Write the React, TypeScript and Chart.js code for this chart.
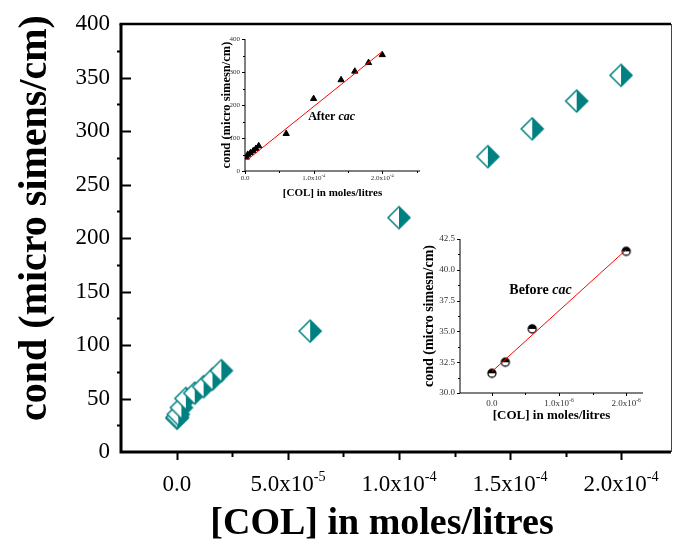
import React, { useEffect, useRef } from 'react';
import { Chart, registerables } from 'chart.js';
Chart.register(...registerables);

// ---------- data ----------
const mainX = [0, 2e-7, 6e-7, 2e-6, 4e-6, 8e-6, 1.2e-5, 1.6e-5, 2e-5, 6e-5, 1e-4, 1.4e-4, 1.6e-4, 1.8e-4, 2e-4];
const mainY = [31.6, 32.5, 35.2, 41.5, 50, 55, 61, 68, 76, 113, 219, 276, 302, 328, 352];
const mainXTicks = [0, 5e-5, 1e-4, 1.5e-4, 2e-4];
const mainXTickBase = ['0.0', '5.0x10', '1.0x10', '1.5x10', '2.0x10'];
const mainXTickExp = ['', '-5', '-4', '-4', '-4'];
const mainXMinor = [2.5e-5, 7.5e-5, 1.25e-4, 1.75e-4];
const mainYTicks = [0, 50, 100, 150, 200, 250, 300, 350, 400];
const mainYTickLabels = ['0', '50', '100', '150', '200', '250', '300', '350', '400'];
const mainYMinor = [25, 75, 125, 175, 225, 275, 325, 375];

const afterX = [2e-6, 4e-6, 8e-6, 1.2e-5, 1.6e-5, 2e-5, 6e-5, 1e-4, 1.4e-4, 1.6e-4, 1.8e-4, 2e-4];
const afterY = [41.5, 50, 55, 61, 68, 76, 113, 219, 276, 302, 328, 352];
const afterFitX = [4e-6, 2e-4];
const afterFitY = [35, 362];
const afterXTicks = [0, 1e-4, 2e-4];
const afterXTickBase = ['0.0', '1.0x10', '2.0x10'];
const afterXTickExp = ['', '-4', '-4'];
const afterXMinor = [5e-5, 1.5e-4, 2.5e-4];
const afterYTicks = [0, 100, 200, 300, 400];
const afterYTickLabels = ['0', '100', '200', '300', '400'];
const afterYMinor = [50, 150, 250, 350];

const beforeX = [0, 2e-7, 6e-7, 2e-6];
const beforeY = [31.6, 32.5, 35.2, 41.5];
const beforeFitX = [0, 2e-6];
const beforeFitY = [31.74, 41.63];
const beforeXTicks = [0, 1e-6, 2e-6];
const beforeXTickBase = ['0.0', '1.0x10', '2.0x10'];
const beforeXTickExp = ['', '-6', '-6'];
const beforeXMinor = [5e-7, 1.5e-6];
const beforeYTicks = [30, 32.5, 35, 37.5, 40, 42.5];
const beforeYTickLabels = ['30.0', '32.5', '35.0', '37.5', '40.0', '42.5'];
const beforeYMinor = [31.25, 33.75, 36.25, 38.75, 41.25];

const TEAL = '#008080';
const SERIF = "'Liberation Serif', 'Times New Roman', serif";

// ---------- markers ----------
function makeDiamond(): HTMLCanvasElement {
  const c = document.createElement('canvas');
  c.width = 26; c.height = 26;
  const g = c.getContext('2d')!;
  const cx = 13, cy = 13, r = 11;
  g.fillStyle = '#fff';
  g.beginPath(); g.moveTo(cx, cy - r); g.lineTo(cx - r, cy); g.lineTo(cx, cy + r); g.closePath(); g.fill();
  g.fillStyle = TEAL;
  g.beginPath(); g.moveTo(cx, cy - r); g.lineTo(cx + r, cy); g.lineTo(cx, cy + r); g.closePath(); g.fill();
  g.strokeStyle = TEAL; g.lineWidth = 1.5;
  g.beginPath(); g.moveTo(cx, cy - r); g.lineTo(cx + r, cy); g.lineTo(cx, cy + r); g.lineTo(cx - r, cy); g.closePath(); g.stroke();
  return c;
}

function makeHalfCircle(): HTMLCanvasElement {
  const c = document.createElement('canvas');
  c.width = 12; c.height = 12;
  const g = c.getContext('2d')!;
  const cx = 6, cy = 6, r = 4;
  g.fillStyle = '#fff';
  g.beginPath(); g.arc(cx, cy, r, 0, Math.PI * 2); g.fill();
  g.fillStyle = '#000';
  g.beginPath(); g.arc(cx, cy, r, Math.PI, 0); g.closePath(); g.fill();
  g.strokeStyle = '#000'; g.lineWidth = 1.3;
  g.beginPath(); g.arc(cx, cy, r, 0, Math.PI * 2); g.stroke();
  return c;
}

// ---------- axes plugin ----------
type Note = { parts: { text: string; italic?: boolean }[]; x: number; y: number; size: number };
type Title = { text: string; size: number; cx: number; cy: number; rotate?: boolean };
type AxisOpts = {
  axisWidth: number; tickWidth: number; color: string;
  xMajor: number[]; xMinor: number[]; yMajor: number[]; yMinor: number[];
  xMajorLen: number; xMinorLen: number; yMajorLen: number; yMinorLen: number;
  xBase: string[]; xExp: string[]; xLabelSize: number; xLabelColor: string; xLabelOffset: number;
  topLine?: number; rightLine?: number; rightColor?: string;
  note?: Note;
  titles?: Title[];
};

function axesPlugin(o: AxisOpts) {
  return {
    id: 'axesFrame',
    afterDraw(chart: any) {
      const { ctx, chartArea: a, scales } = chart;
      const xs = scales.x, ys = scales.y;
      ctx.save();
      ctx.strokeStyle = o.color;
      ctx.lineCap = 'butt';
      const xt = (vals: number[], len: number) => {
        ctx.beginPath();
        vals.forEach((v) => {
          const p = Math.round(xs.getPixelForValue(v)) + 0.5;
          ctx.moveTo(p, a.bottom); ctx.lineTo(p, a.bottom + len);
        });
        ctx.stroke();
      };
      const yt = (vals: number[], len: number) => {
        ctx.beginPath();
        vals.forEach((v) => {
          const p = Math.round(ys.getPixelForValue(v)) + 0.5;
          ctx.moveTo(a.left, p); ctx.lineTo(a.left - len, p);
        });
        ctx.stroke();
      };
      ctx.lineWidth = o.tickWidth;
      xt(o.xMajor, o.xMajorLen); xt(o.xMinor, o.xMinorLen);
      yt(o.yMajor, o.yMajorLen); yt(o.yMinor, o.yMinorLen);
      // axes
      ctx.lineWidth = o.axisWidth;
      ctx.beginPath();
      ctx.moveTo(a.left, a.top);
      ctx.lineTo(a.left, a.bottom);
      ctx.lineTo(a.right, a.bottom);
      ctx.stroke();
      if (o.topLine) {
        ctx.lineWidth = o.topLine;
        ctx.beginPath(); ctx.moveTo(a.left - o.axisWidth / 2, a.top); ctx.lineTo(a.right, a.top); ctx.stroke();
      }
      if (o.rightLine) {
        ctx.lineWidth = o.rightLine;
        ctx.strokeStyle = o.rightColor || o.color;
        ctx.beginPath(); ctx.moveTo(a.right + 0.5, a.top); ctx.lineTo(a.right + 0.5, a.bottom); ctx.stroke();
      }
      // x tick labels with superscript exponents
      ctx.fillStyle = o.xLabelColor;
      ctx.textAlign = 'left';
      ctx.textBaseline = 'alphabetic';
      const bs = o.xLabelSize, es = o.xLabelSize * 0.62;
      o.xMajor.forEach((v, i) => {
        const base = o.xBase[i], exp = o.xExp[i];
        ctx.font = `${bs}px ${SERIF}`;
        const wb = ctx.measureText(base).width;
        ctx.font = `${es}px ${SERIF}`;
        const we = exp ? ctx.measureText(exp).width : 0;
        const x0 = xs.getPixelForValue(v) - (wb + we) / 2;
        const baseY = a.bottom + o.xLabelOffset + bs * 0.33;
        ctx.font = `${bs}px ${SERIF}`;
        ctx.fillText(base, x0, baseY);
        if (exp) {
          ctx.font = `${es}px ${SERIF}`;
          ctx.fillText(exp, x0 + wb, baseY - bs * 0.42);
        }
      });
      if (o.note) {
        const n = o.note;
        let px = xs.getPixelForValue(n.x);
        const py = ys.getPixelForValue(n.y);
        ctx.fillStyle = '#000';
        ctx.textBaseline = 'middle';
        ctx.textAlign = 'left';
        n.parts.forEach((part) => {
          ctx.font = `${part.italic ? 'italic ' : ''}bold ${n.size}px ${SERIF}`;
          ctx.fillText(part.text, px, py);
          px += ctx.measureText(part.text).width;
        });
      }
      if (o.titles) {
        ctx.fillStyle = '#000';
        ctx.textAlign = 'center';
        ctx.textBaseline = 'middle';
        o.titles.forEach((t) => {
          ctx.save();
          ctx.font = `bold ${t.size}px ${SERIF}`;
          ctx.translate(t.cx, t.cy);
          if (t.rotate) ctx.rotate(-Math.PI / 2);
          ctx.fillText(t.text, 0, 0);
          ctx.restore();
        });
      }
      ctx.restore();
    },
  };
}

function scaleCfg(opts: {
  min: number; max: number; ticks: number[]; labels?: string[]; fit: number; horizontal: boolean;
  tickSize: number; tickPad: number; tickColor: string;
  title?: string; titleSize?: number; titlePad?: number;
}) {
  return {
    type: 'linear',
    min: opts.min,
    max: opts.max,
    afterBuildTicks: (s: any) => { s.ticks = opts.ticks.map((v) => ({ value: v })); },
    afterFit: (s: any) => {
      if (opts.horizontal) s.height = opts.fit; else s.width = opts.fit;
      s.paddingLeft = 0; s.paddingRight = 0; s.paddingTop = 0; s.paddingBottom = 0;
    },
    ticks: {
      display: !!opts.labels,
      callback: (_v: any, i: number) => (opts.labels ? opts.labels[i] : ''),
      font: { family: SERIF, size: opts.tickSize },
      color: opts.tickColor,
      padding: opts.tickPad,
      maxRotation: 0,
      minRotation: 0,
      autoSkip: false,
    },
    grid: { display: false, drawTicks: false },
    border: { display: false },
    title: {
      display: !!opts.title,
      text: opts.title || '',
      color: '#000',
      font: { family: SERIF, size: opts.titleSize || 12, weight: 'bold' },
      padding: opts.horizontal ? { top: 0, bottom: opts.titlePad || 0 } : { top: opts.titlePad || 0, bottom: 0 },
    },
  };
}

export default function App() {
  const mainRef = useRef<HTMLCanvasElement>(null);
  const afterRef = useRef<HTMLCanvasElement>(null);
  const beforeRef = useRef<HTMLCanvasElement>(null);

  useEffect(() => {
    const diamond = makeDiamond();
    const half = makeHalfCircle();
    const common = {
      responsive: false,
      animation: false,
      devicePixelRatio: 1,
      events: [],
    };

    const main = new Chart(mainRef.current!, {
      type: 'scatter',
      data: {
        datasets: [{
          data: mainX.map((x, i) => ({ x, y: mainY[i] })),
          pointStyle: diamond,
          pointRadius: 11,
          showLine: false,
          clip: false,
        }],
      },
      options: {
        ...common,
        layout: { autoPadding: false, padding: { top: 24, right: 3, left: 0, bottom: 0 } },
        plugins: { legend: { display: false }, tooltip: { enabled: false } },
        scales: {
          x: scaleCfg({ min: -2.52e-5, max: 2.225e-4, ticks: mainXTicks, fit: 95, horizontal: true, tickSize: 22, tickPad: 18, tickColor: '#000' }),
          y: scaleCfg({ min: 0, max: 400, ticks: mainYTicks, labels: mainYTickLabels, fit: 121, horizontal: false, tickSize: 23, tickPad: 11, tickColor: '#000' }),
        },
      } as any,
      plugins: [axesPlugin({
        axisWidth: 3, tickWidth: 2, color: '#000',
        xMajor: mainXTicks, xMinor: mainXMinor, yMajor: mainYTicks.slice(1, -1), yMinor: mainYMinor,
        xMajorLen: 8, xMinorLen: 5, yMajorLen: -10, yMinorLen: 4,
        xBase: mainXTickBase, xExp: mainXTickExp, xLabelSize: 23, xLabelColor: '#000', xLabelOffset: 31,
        topLine: 2.5, rightLine: 1, rightColor: '#444',
        titles: [
          { text: '[COL] in moles/litres', size: 38, cx: 382, cy: 524 },
          { text: 'cond (micro simens/cm)', size: 40, cx: 36, cy: 218, rotate: true },
        ],
      })],
    } as any);

    const after = new Chart(afterRef.current!, {
      type: 'scatter',
      data: {
        datasets: [
          {
            data: afterFitX.map((x, i) => ({ x, y: afterFitY[i] })),
            showLine: true, borderColor: '#ff0000', borderWidth: 1, pointRadius: 0,
          },
          {
            data: afterX.map((x, i) => ({ x, y: afterY[i] })),
            pointStyle: 'triangle', pointRadius: 3.6, backgroundColor: '#000', borderColor: '#000', borderWidth: 1, showLine: false,
          },
        ],
      },
      options: {
        ...common,
        layout: { autoPadding: false, padding: { top: 11, right: 10, left: 0, bottom: 0 } },
        plugins: { legend: { display: false }, tooltip: { enabled: false } },
        scales: {
          x: scaleCfg({ min: 0, max: 2.55e-4, ticks: afterXTicks, fit: 29, horizontal: true, tickSize: 7, tickPad: 3, tickColor: '#333', title: '[COL] in moles/litres', titleSize: 11, titlePad: 0 }),
          y: scaleCfg({ min: 0, max: 400, ticks: afterYTicks, labels: afterYTickLabels, fit: 45, horizontal: false, tickSize: 7, tickPad: 5, tickColor: '#333', title: 'cond (micro simesn/cm)', titleSize: 12.5, titlePad: 19 }),
        },
      } as any,
      plugins: [axesPlugin({
        axisWidth: 1, tickWidth: 1, color: '#000',
        xMajor: afterXTicks, xMinor: afterXMinor, yMajor: afterYTicks, yMinor: afterYMinor,
        xMajorLen: 3, xMinorLen: 2, yMajorLen: 3, yMinorLen: 2,
        xBase: afterXTickBase, xExp: afterXTickExp, xLabelSize: 7, xLabelColor: '#333', xLabelOffset: 7,
        note: { parts: [{ text: 'After ' }, { text: 'cac', italic: true }], x: 0.92e-4, y: 164, size: 12 },
      })],
    } as any);

    const before = new Chart(beforeRef.current!, {
      type: 'scatter',
      data: {
        datasets: [
          {
            data: beforeFitX.map((x, i) => ({ x, y: beforeFitY[i] })),
            showLine: true, borderColor: '#ff0000', borderWidth: 1, pointRadius: 0,
          },
          {
            data: beforeX.map((x, i) => ({ x, y: beforeY[i] })),
            pointStyle: half, pointRadius: 4, showLine: false,
          },
        ],
      },
      options: {
        ...common,
        layout: { autoPadding: false, padding: { top: 11, right: 7, left: 0, bottom: 0 } },
        plugins: { legend: { display: false }, tooltip: { enabled: false } },
        scales: {
          x: scaleCfg({ min: -0.475e-6, max: 2.25e-6, ticks: beforeXTicks, fit: 30, horizontal: true, tickSize: 9, tickPad: 4.6, tickColor: '#333', title: '[COL] in moles/litres', titleSize: 13, titlePad: 0 }),
          y: scaleCfg({ min: 30, max: 42.5, ticks: beforeYTicks, labels: beforeYTickLabels, fit: 60, horizontal: false, tickSize: 9, tickPad: 5, tickColor: '#333', title: 'cond (micro simesn/cm)', titleSize: 14, titlePad: 20.6 }),
        },
      } as any,
      plugins: [axesPlugin({
        axisWidth: 1, tickWidth: 1, color: '#000',
        xMajor: beforeXTicks, xMinor: beforeXMinor, yMajor: beforeYTicks, yMinor: beforeYMinor,
        xMajorLen: 3, xMinorLen: 2, yMajorLen: 3, yMinorLen: 2,
        xBase: beforeXTickBase, xExp: beforeXTickExp, xLabelSize: 9, xLabelColor: '#333', xLabelOffset: 10,
        note: { parts: [{ text: 'Before ' }, { text: 'cac', italic: true }], x: 0.26e-6, y: 38.36, size: 14 },
      })],
    } as any);

    return () => { main.destroy(); after.destroy(); before.destroy(); };
  }, []);

  return (
    <div style={{ position: 'absolute', left: 0, top: 0, width: 674, height: 547, background: '#fff' }}>
      <canvas ref={mainRef} width={674} height={547} style={{ position: 'absolute', left: 0, top: 0 }} />
      <canvas ref={afterRef} width={230} height={172} style={{ position: 'absolute', left: 200, top: 28 }} />
      <canvas ref={beforeRef} width={250} height={195} style={{ position: 'absolute', left: 400, top: 228 }} />
    </div>
  );
}
